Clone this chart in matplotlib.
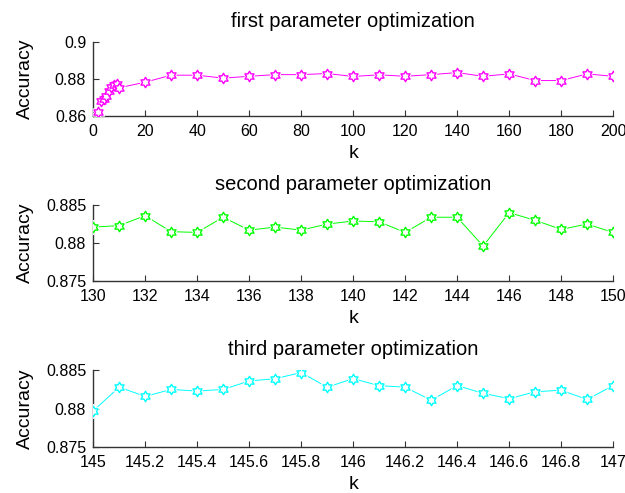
import numpy as np
import matplotlib
matplotlib.use("Agg")
import matplotlib.pyplot as plt
from matplotlib.path import Path

plt.rcParams['font.family'] = ['Liberation Sans', 'DejaVu Sans']

k1 = [2, 3, 4, 5, 6, 7, 8, 9, 10, 20, 30, 40, 50, 60, 70, 80, 90, 100, 110,
      120, 130, 140, 150, 160, 170, 180, 190, 200]
acc1 = [0.8622, 0.8680, 0.8690, 0.8705, 0.8735, 0.8755, 0.8767, 0.8775, 0.8752,
        0.8782, 0.8820, 0.8820, 0.8804, 0.8814, 0.8823, 0.8823, 0.8829, 0.8813,
        0.8822, 0.8814, 0.8823, 0.8834, 0.8814, 0.8827, 0.8791, 0.8791, 0.8827,
        0.8814]

k2 = list(range(130, 151))
acc2 = [0.8821, 0.8823, 0.8836, 0.8815, 0.8814, 0.8834, 0.8817, 0.8821, 0.8817,
        0.8825, 0.8829, 0.8828, 0.8814, 0.8834, 0.8834, 0.8796, 0.8840, 0.8830,
        0.8818, 0.8825, 0.8814]

k3 = [145.0, 145.1, 145.2, 145.3, 145.4, 145.5, 145.6, 145.7, 145.8, 145.9, 146.0,
      146.1, 146.2, 146.3, 146.4, 146.5, 146.6, 146.7, 146.8, 146.9, 147.0]
acc3 = [0.8797, 0.8828, 0.8816, 0.8825, 0.8823, 0.8825, 0.8836, 0.8839, 0.8847,
        0.8828, 0.8839, 0.8830, 0.8828, 0.8811, 0.8830, 0.8820, 0.8813, 0.8822,
        0.8824, 0.8812, 0.8830]

titles = ['first parameter optimization', 'second parameter optimization',
          'third parameter optimization']
colors = ['#ff00ff', '#00ff00', '#00ffff']
xticks = [list(range(0, 201, 20)), list(range(130, 151, 2)),
          [145, 145.2, 145.4, 145.6, 145.8, 146, 146.2, 146.4, 146.6, 146.8, 147]]
xticklabels = [[str(v) for v in xticks[0]], [str(v) for v in xticks[1]],
               ['145', '145.2', '145.4', '145.6', '145.8', '146', '146.2', '146.4',
                '146.6', '146.8', '147']]
xlims = [(0, 200), (130, 150), (145, 147)]
ylims = [(0.86, 0.9), (0.875, 0.885), (0.875, 0.885)]
yticks = [[0.86, 0.88, 0.9], [0.875, 0.88, 0.885], [0.875, 0.88, 0.885]]
yticklabels = [['0.86', '0.88', '0.9'], ['0.875', '0.88', '0.885'],
               ['0.875', '0.88', '0.885']]

# hexagram marker
ang = np.pi / 2 + np.arange(12) * np.pi / 6
rad = np.where(np.arange(12) % 2 == 0, 1.0, 1 / np.sqrt(3))
verts = np.column_stack([rad * np.cos(ang), rad * np.sin(ang)])
verts = np.vstack([verts, verts[:1]])
codes = [Path.MOVETO] + [Path.LINETO] * 11 + [Path.CLOSEPOLY]
hexagram = Path(verts, codes)

fig = plt.figure(figsize=(6.25, 4.93), dpi=100)
positions = [[0.149, 0.765, 0.832, 0.150],
             [0.149, 0.430, 0.832, 0.154],
             [0.149, 0.093, 0.832, 0.156]]
data = [(k1, acc1), (k2, acc2), (k3, acc3)]
for i in range(3):
    ax = fig.add_axes(positions[i])
    x, y = data[i]
    ax.plot(x, y, '-', color=colors[i], lw=0.7, zorder=2)
    ax.plot(x, y, ls='none', marker=hexagram, markersize=10,
            markerfacecolor='white', markeredgecolor='white', zorder=3)
    ax.plot(x, y, ls='none', marker=hexagram, markersize=7.5,
            markerfacecolor='white', markeredgecolor=colors[i],
            markeredgewidth=1.0, zorder=4)
    ax.set_xlim(*xlims[i])
    ax.set_ylim(*ylims[i])
    ax.set_xticks(xticks[i])
    ax.set_xticklabels(xticklabels[i])
    ax.set_yticks(yticks[i])
    ax.set_yticklabels(yticklabels[i])
    ax.spines['top'].set_visible(False)
    ax.spines['right'].set_visible(False)
    for s in ['left', 'bottom']:
        ax.spines[s].set_color('#333333')
        ax.spines[s].set_linewidth(1.0)
    ax.tick_params(direction='in', length=4, labelsize=11.5, colors='#333333',
                   labelcolor='black')
    ax.tick_params(axis='x', pad=6)
    ax.tick_params(axis='y', pad=5)
    ax.set_title(titles[i], fontsize=14.5, pad=11)
    ax.set_xlabel('k', fontsize=14, labelpad=4)
    ax.set_ylabel('Accuracy', fontsize=14)
    ax.yaxis.set_label_coords(-0.113, 0.5)

fig.savefig('out.png', dpi=100)
